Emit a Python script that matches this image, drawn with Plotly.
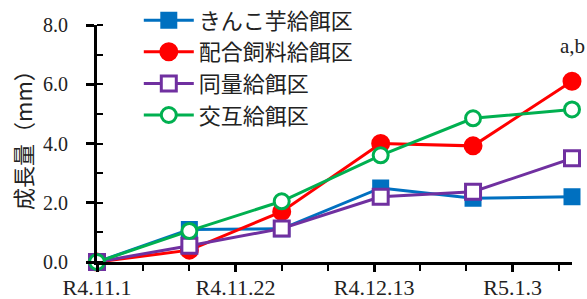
import plotly.graph_objects as go

dates = ["2022-11-01", "2022-11-15", "2022-11-29", "2022-12-14", "2022-12-28", "2023-01-12"]
series_names = ["きんこ芋給餌区", "配合飼料給餌区", "同量給餌区", "交互給餌区"]
kinko = [0, 1.1, 1.12, 2.5, 2.15, 2.2]
haigo = [0, 0.4, 1.7, 4.0, 3.92, 6.1]
doryo = [0, 0.55, 1.13, 2.2, 2.37, 3.5]
kogo = [0, 1.05, 2.05, 3.6, 4.85, 5.15]
tick_dates = ["2022-11-01", "2022-11-22", "2022-12-13", "2023-01-03"]
tick_labels = ["R4.11.1", "R4.11.22", "R4.12.13", "R5.1.3"]
y_title = "成長量（mm）"
note_text = "a,b"

colors = ["#0070C0", "#FF0000", "#7030A0", "#00B050"]
symbols = ["square", "circle", "square", "circle"]
fills = ["#0070C0", "#FF0000", "white", "white"]
sizes = [14, 16, 15, 15]

fig = go.Figure()
for name, vals, c, s, f, sz in zip(series_names, [kinko, haigo, doryo, kogo], colors, symbols, fills, sizes):
    fig.add_trace(go.Scatter(
        x=dates, y=vals, name=name, mode="lines+markers",
        line=dict(color=c, width=3),
        marker=dict(symbol=s, size=sz, color=f, line=dict(color=c, width=3)),
        cliponaxis=False,
    ))

fig.add_annotation(x=dates[-1], y=7.3, text=note_text, showarrow=False,
                   font=dict(family="Liberation Serif", size=21, color="#222"))
fig.add_annotation(xref="paper", yref="paper", x=-0.158, y=0.54, text=y_title,
                   textangle=-90, showarrow=False, xanchor="center", yanchor="middle",
                   font=dict(family="Noto Sans CJK JP", size=22, color="#222"))

fig.update_layout(
    width=587, height=299,
    margin=dict(l=97, r=15, t=25, b=37, autoexpand=False),
    plot_bgcolor="white", paper_bgcolor="white",
    showlegend=True,
    legend=dict(x=0.088, y=1.108, xanchor="left", yanchor="top",
                font=dict(family="Noto Sans CJK JP", size=22, color="#222"),
                bgcolor="rgba(0,0,0,0)", tracegroupgap=0, itemwidth=50),
    xaxis=dict(
        type="date", range=["2022-11-01", "2023-01-12"], automargin=False,
        tickvals=tick_dates, ticktext=tick_labels,
        showline=True, linecolor="black", linewidth=3,
        ticks="outside", ticklen=7, tickwidth=3, tickcolor="black",
        minor=dict(ticks="outside", ticklen=6, tickwidth=2, tickcolor="black",
                   tickmode="linear", tick0="2022-11-01", dtick=7 * 86400000),
        showgrid=False, zeroline=False, ticklabelstandoff=-3,
        tickfont=dict(family="Liberation Serif", size=22, color="#222"),
    ),
    yaxis=dict(
        range=[0, 8], dtick=2, tickformat=".1f", automargin=False,
        showline=True, linecolor="black", linewidth=3,
        ticks="outside", ticklen=8, tickwidth=3, tickcolor="black",
        minor=dict(ticks="inside", ticklen=6, tickwidth=2, tickcolor="black", dtick=1),
        showgrid=False, zeroline=False, ticklabelstandoff=14,
        tickfont=dict(family="Liberation Serif", size=20, color="#222"),
    ),
    yaxis2=dict(overlaying="y", range=[0, 8], dtick=2, ticks="inside", ticklen=7,
                tickwidth=3, tickcolor="black", showticklabels=False, automargin=False,
                showgrid=False, zeroline=False, showline=False),
    xaxis2=dict(overlaying="x", type="date", range=["2022-11-01", "2023-01-12"],
                tickvals=tick_dates, ticks="inside", ticklen=7, tickwidth=3, automargin=False,
                tickcolor="black", showticklabels=False, showgrid=False,
                zeroline=False, showline=False),
)

fig.write_html("out.html", config={"displayModeBar": False},
               post_script="document.body.style.margin='0px';document.body.style.overflow='hidden';")
